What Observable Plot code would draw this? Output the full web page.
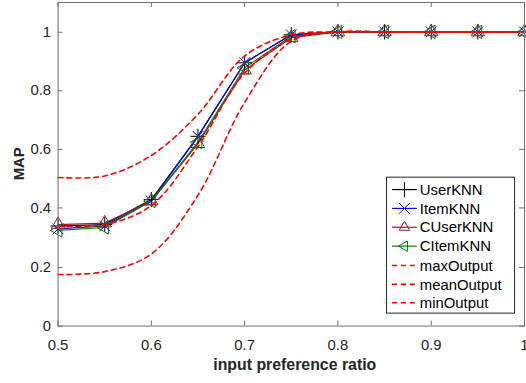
<!DOCTYPE html>
<html>
<head>
<meta charset="utf-8">
<script src="https://cdn.jsdelivr.net/npm/d3@7"></script>
<script src="https://cdn.jsdelivr.net/npm/@observablehq/plot@0.6"></script>
<style>
  html, body { margin: 0; padding: 0; background: #fff; }
  #wrap { width: 526px; height: 383px; overflow: hidden; }
</style>
</head>
<body>
<div id="wrap"></div>
<script>
// ---- data ----
const ratios = [0.5, 0.55, 0.6, 0.65, 0.7, 0.75, 0.8, 0.85, 0.9, 0.95, 1.0];
const userKNN  = [0.340, 0.345, 0.430, 0.645, 0.895, 0.990, 1, 1, 1, 1, 1];
const itemKNN  = [0.330, 0.340, 0.425, 0.645, 0.895, 0.990, 1, 1, 1, 1, 1];
const cUserKNN = [0.345, 0.350, 0.425, 0.620, 0.870, 0.980, 1, 1, 1, 1, 1];
const cItemKNN = [0.325, 0.335, 0.425, 0.625, 0.878, 0.985, 1, 1, 1, 1, 1];
const maxOutput  = [0.505, 0.510, 0.580, 0.720, 0.918, 0.990, 1, 1, 1, 1, 1];
const meanOutput = [0.340, 0.345, 0.410, 0.610, 0.860, 0.975, 1, 1, 1, 1, 1];
const minOutput  = [0.175, 0.185, 0.245, 0.445, 0.760, 0.968, 1, 1, 1, 1, 1];
const xTicks = [0.5, 0.6, 0.7, 0.8, 0.9, 1];
const yTicks = [0, 0.2, 0.4, 0.6, 0.8, 1];
const xLabel = "input preference ratio";
const yLabel = "MAP";

const series = [
  {name: "UserKNN",  values: userKNN,  color: "#000000", symbol: "plus",     rotate: 0,   kind: "marker"},
  {name: "ItemKNN",  values: itemKNN,  color: "#0000ff", symbol: "times",    rotate: 0,   kind: "marker"},
  {name: "CUserKNN", values: cUserKNN, color: "#a2142f", symbol: "triangle", rotate: 0,   kind: "marker"},
  {name: "CItemKNN", values: cItemKNN, color: "#008000", symbol: "triangle", rotate: -90, kind: "marker"},
  {name: "maxOutput",  values: maxOutput,  color: "#ff0000", kind: "dash"},
  {name: "meanOutput", values: meanOutput, color: "#ff0000", kind: "dash"},
  {name: "minOutput",  values: minOutput,  color: "#ff0000", kind: "dash"}
];
const rows = s => ratios.map((x, i) => ({x, y: s.values[i], name: s.name}));

const marks = [];
for (const s of series.filter(d => d.kind === "marker")) {
  marks.push(Plot.line(rows(s), {x: "x", y: "y", stroke: s.color, strokeWidth: 1.2}));
}
for (const s of series.filter(d => d.kind === "marker")) {
  marks.push(Plot.dot(rows(s), {x: "x", y: "y", symbol: () => s.symbol, r: 5,
    stroke: s.color, fill: "none", strokeWidth: 1, rotate: s.rotate}));
}
for (const s of series.filter(d => d.kind === "dash")) {
  marks.push(Plot.line(rows(s), {x: "x", y: "y", stroke: s.color, strokeWidth: 1.6,
    strokeDasharray: "5,4", curve: "catmull-rom"}));
}

const plot = Plot.plot({
  width: 530, height: 383,
  marginLeft: 58, marginRight: 2, marginTop: 2, marginBottom: 55,
  x: {domain: [0.5, 1]},
  y: {domain: [0, 1.1]},
  symbol: {type: "identity"},
  style: {fontFamily: "'Liberation Sans', Arial, Helvetica, sans-serif", fontSize: "15px", color: "#262626", background: "#fff", overflow: "visible"},
  marks: [
    Plot.axisX(xTicks, {tickSize: 0, tickPadding: 13, tickFormat: d => String(+d.toFixed(1)), label: null, fill: "#262626"}),
    Plot.axisY(yTicks, {tickSize: 0, tickPadding: 7, tickFormat: d => String(+d.toFixed(1)), label: null, fill: "#262626"}),
    ...marks,
    Plot.frame({stroke: "#6e6e6e", strokeWidth: 1})
  ]
});

const svg = d3.select(plot);
const xs = plot.scale("x"), ys = plot.scale("y");
const x0 = xs.apply(0.5), x1 = xs.apply(1), y0 = ys.apply(0), y1 = ys.apply(1.1);
const g = svg.append("g").attr("stroke", "#6e6e6e").attr("stroke-width", 1);
for (const t of xTicks) {
  const px = Math.round(xs.apply(t)) + 0.5;
  g.append("line").attr("x1", px).attr("x2", px).attr("y1", y0).attr("y2", y0 - 5);
  g.append("line").attr("x1", px).attr("x2", px).attr("y1", y1).attr("y2", y1 + 5);
}
for (const t of yTicks) {
  const py = Math.round(ys.apply(t)) + 0.5;
  g.append("line").attr("x1", x0).attr("x2", x0 + 5).attr("y1", py).attr("y2", py);
  g.append("line").attr("x1", x1).attr("x2", x1 - 5).attr("y1", py).attr("y2", py);
}

// axis labels
svg.append("text").attr("x", 297).attr("y", 373).attr("text-anchor", "middle")
  .attr("font-weight", "bold").attr("font-size", 16).attr("fill", "#262626").text(xLabel);
svg.append("text").attr("transform", "translate(24,165) rotate(-90)").attr("text-anchor", "middle")
  .attr("font-weight", "bold").attr("font-size", 15).attr("fill", "#262626").text(yLabel);

// legend
const lg = svg.append("g").attr("text-anchor", "start");
lg.append("rect").attr("x", 389.5).attr("y", 178.5).attr("width", 129).attr("height", 137)
  .attr("fill", "#fff").attr("stroke", "#262626").attr("stroke-width", 1);
const legY = [191, 210, 229, 248, 267.5, 286.5, 305];
series.forEach((s, i) => {
  const yy = legY[i];
  const line = lg.append("line").attr("x1", 395).attr("x2", 420).attr("y1", yy).attr("y2", yy)
    .attr("stroke", s.color).attr("stroke-width", s.kind === "dash" ? 1.6 : 1.2);
  if (s.kind === "dash") line.attr("stroke-dasharray", "5,4");
  else {
    const sym = s.symbol === "plus" ? d3.symbol(d3.symbolPlus2 || d3.symbolPlus, Math.PI * 25) :
                s.symbol === "times" ? d3.symbol(d3.symbolTimes || d3.symbolX, Math.PI * 25) :
                d3.symbol(d3.symbolTriangle2 || d3.symbolTriangle, Math.PI * 25);
    lg.append("path").attr("d", sym()).attr("fill", "none").attr("stroke", s.color)
      .attr("transform", `translate(407.5,${yy}) rotate(${s.rotate})`);
  }
  lg.append("text").attr("x", 423).attr("y", yy).attr("dy", "0.35em").attr("text-anchor", "start")
    .attr("font-size", 15).attr("fill", "#000").text(s.name);
});

document.getElementById("wrap").appendChild(plot);
</script>
</body>
</html>
